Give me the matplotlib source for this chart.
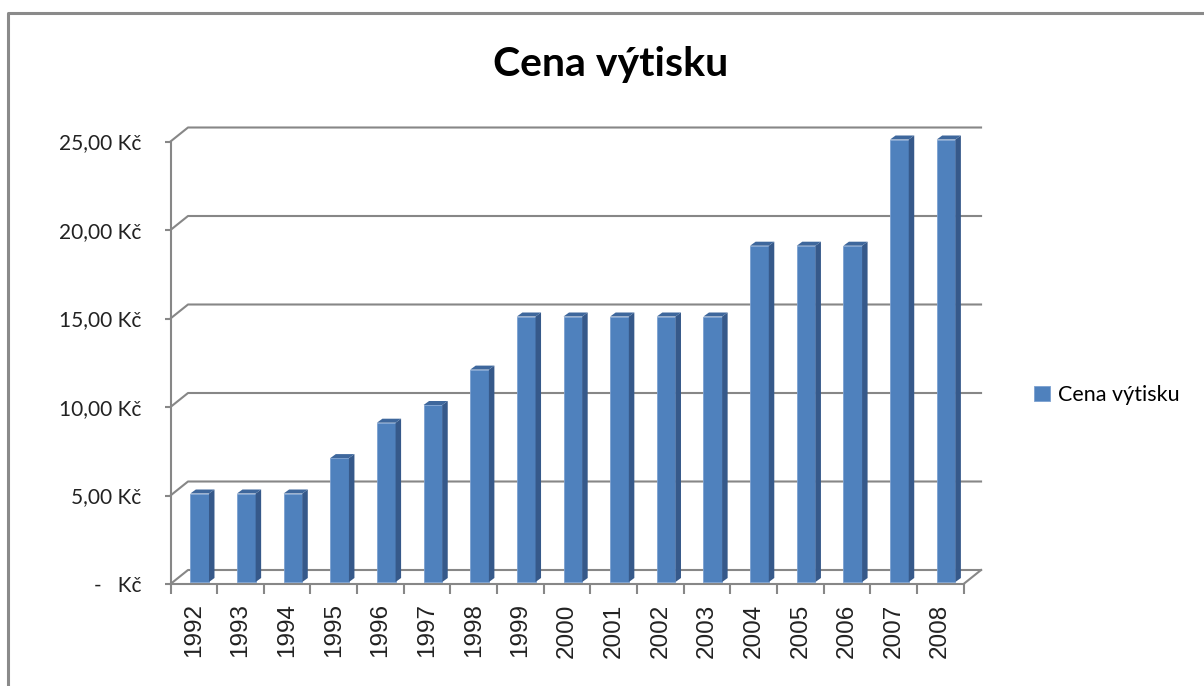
import matplotlib.pyplot as plt
from matplotlib.patches import Polygon
from matplotlib.lines import Line2D

years = ["1992", "1993", "1994", "1995", "1996", "1997", "1998", "1999", "2000",
         "2001", "2002", "2003", "2004", "2005", "2006", "2007", "2008"]
prices = [5, 5, 5, 7, 9, 10, 12, 15, 15, 15, 15, 15, 19, 19, 19, 25, 25]
y_ticks = [0, 5, 10, 15, 20, 25]
y_labels = ["-   Kč", "5,00 Kč", "10,00 Kč", "15,00 Kč", "20,00 Kč", "25,00 Kč"]
title = "Cena výtisku"
series_name = "Cena výtisku"

W, H = 1204, 686
fig = plt.figure(figsize=(W / 100, H / 100), dpi=100, facecolor="white")

# pixel layout of the front plane
px_left, px_right, px_bottom, px_top = 170.5, 990, 584, 120
px_per_cat = 46.65
px_per_unit = 17.7
ax = fig.add_axes([px_left / W, (H - px_bottom) / H,
                   (px_right - px_left) / W, (px_bottom - px_top) / H])
n = len(years)
ax.set_xlim(-0.5, -0.5 + (px_right - px_left) / px_per_cat)
ax.set_ylim(0, (px_bottom - px_top) / px_per_unit)

# depth of the 3d box (data units)
ddx = 17.5 / px_per_cat
ddy = 14 / px_per_unit
grid_c = "#878787"
x0, x1 = -0.5, n - 0.5

# back wall gridlines with left wall diagonal
for v in y_ticks:
    ax.plot([x0, x0 + ddx, x1 + ddx], [v, v + ddy, v + ddy],
            color=grid_c, lw=1.5, clip_on=False, zorder=1)
# right floor edge
ax.plot([x1, x1 + ddx], [0, ddy], color=grid_c, lw=1.5, clip_on=False, zorder=1)

# bars: front face, side face, top face
bar_off = 0.425
bar_w = 0.40
sdx = 5.5 / px_per_cat
sdy = 4 / px_per_unit
base = 2 / px_per_unit
lefts = [i - 0.5 + bar_off for i in range(n)]
bars = ax.bar(lefts, prices, width=bar_w, bottom=base, align="edge",
              color="#4F81BD", edgecolor="#7BA0D0", lw=0.6, zorder=3,
              label=series_name)
for xl, v in zip(lefts, prices):
    xr = xl + bar_w
    top = v + base
    ax.add_patch(Polygon([(xr, base), (xr + sdx, base + sdy), (xr + sdx, top + sdy), (xr, top)],
                         closed=True, facecolor="#36598A", edgecolor="none", zorder=3))
    ax.add_patch(Polygon([(xl, top), (xl + sdx, top + sdy), (xr + sdx, top + sdy), (xr, top)],
                         closed=True, facecolor="#3E679C", edgecolor="none", zorder=3))

# front axes
for s in ["top", "right"]:
    ax.spines[s].set_visible(False)
ax.spines["left"].set_bounds(0, 25)
ax.spines["bottom"].set_bounds(x0, x1)
for s in ["left", "bottom"]:
    ax.spines[s].set_color(grid_c)
    ax.spines[s].set_linewidth(1.5)
    ax.spines[s].set_zorder(2)

ax.set_yticks(y_ticks)
ax.set_yticklabels(y_labels, fontfamily="Lato", fontsize=15, color="#222222")
ax.tick_params(axis="y", length=4, width=1.5, color=grid_c, pad=17)

ax.set_xticks([i - 0.5 for i in range(n + 1)])
ax.set_xticklabels([])
ax.tick_params(axis="x", which="major", length=7.5, width=1.5, color=grid_c)
ax.set_xticks(range(n), minor=True)
ax.set_xticklabels(years, minor=True, rotation=90, fontfamily="Liberation Sans",
                   fontsize=17.5, color="#222222")
ax.tick_params(axis="x", which="minor", length=0, pad=14)

fig.text(0.507, 0.906, title, ha="center", va="center", fontfamily="Lato",
         fontweight="bold", fontsize=29.5, color="black")

fig.legend(handles=[bars], labels=[series_name], loc="center left",
           bbox_to_anchor=(1034 / W, 1 - 395 / H), frameon=False,
           prop={"family": "Lato", "size": 15.5}, handlelength=0.75,
           handleheight=0.75, handletextpad=0.35, borderpad=0, borderaxespad=0)

# outer frame (top and left edges visible)
fig.add_artist(Line2D([7.5 / W, 7.5 / W, 1.0], [0.0, 1 - 13 / H, 1 - 13 / H],
                      transform=fig.transFigure, color="#8A8A8A", lw=2.2))

fig.savefig("out.png", dpi=100, facecolor="white")
